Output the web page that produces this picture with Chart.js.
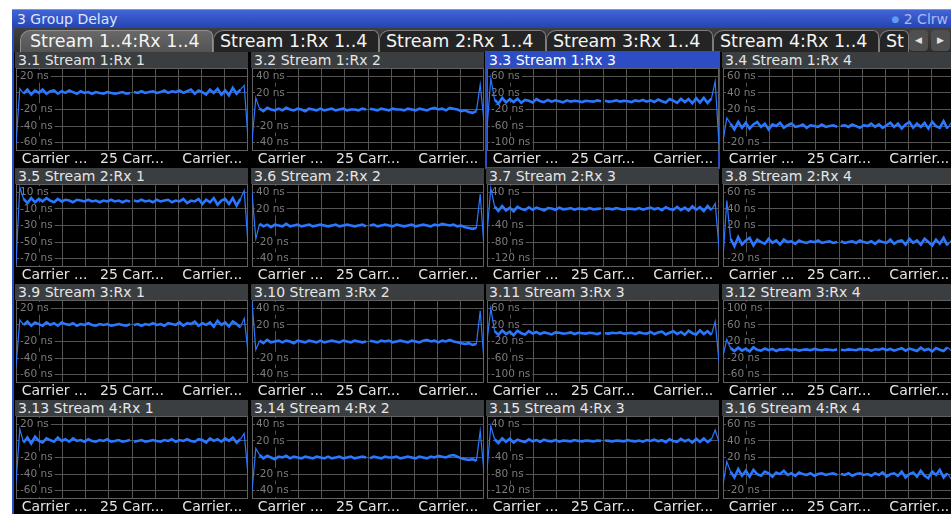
<!DOCTYPE html>
<html lang="en">
<head>
<meta charset="UTF-8">
<title>3 Group Delay</title>
<script src="https://cdn.jsdelivr.net/npm/chart.js"></script>
<style>
  body { margin: 0; width: 951px; height: 514px; overflow: hidden; background: #fff; position: relative; font-family: 'DejaVu Sans', sans-serif; }
  #win { position: absolute; left: 12px; top: 9px; width: 939px; height: 505px; background: #000; border-left: 2px solid #2d4cc2; box-sizing: border-box; }
  #titlebar { position: absolute; left: 12px; top: 9px; width: 939px; height: 19px; box-sizing: border-box; padding: 2px 0 0 5px; background: linear-gradient(#4466d6, #2544b4); box-shadow: inset 0 1px 0 #7b93e4; color: #dfe6ff; font-size: 14px; line-height: 17px; }
  #clrw { position: absolute; right: 3px; top: 2px; color: #a9bbf0; }
  #clrw span { color: #5f9cf5; font-size: 9px; vertical-align: 2px; }
  #tabbar { position: absolute; left: 14px; top: 28px; width: 937px; height: 24px; background: linear-gradient(#404040, #2b2b2b); }
  .tab { position: absolute; top: 30px; height: 22px; box-sizing: border-box; border: 1px solid #7d7d7d; border-bottom: none; border-radius: 10px 6px 0 0; background: #242424; color: #f4f4f4; font-size: 17.5px; line-height: 21px; white-space: nowrap; overflow: hidden; padding-left: 6px; }
  .tab.active { background: linear-gradient(#686868, #535353); border-color: #909090; padding-left: 9px; }
  .btn { position: absolute; top: 30px; width: 19px; height: 21px; background: #4f4f4f; border-radius: 4px; color: #e0e0e0; font-size: 9px; line-height: 21px; text-align: center; }
  .panel { position: absolute; width: 233px; height: 116px; }
  .ptitle { height: 16px; box-sizing: border-box; padding: 1px 0 0 3px; background: #3b3e41; color: #e6e6e6; font-size: 14px; line-height: 15px; white-space: nowrap; overflow: hidden; }
  .panel.sel { outline: 2px solid #2c4dc4; outline-offset: -1px; }
  .panel.sel .ptitle { background: #2c4dc4; color: #fff; }
  .plot { position: absolute; left: 1px; top: 16px; width: 232px; height: 100px; }
</style>
</head>
<body>
<div id="win"></div>
<div id="titlebar">3 Group Delay<div id="clrw"><span>&#9679;</span> 2 Clrw</div></div>
<div id="tabbar"></div>
<div class="tab active" style="left:20px;width:193px">Stream 1..4:Rx 1..4</div>
<div class="tab" style="left:213px;width:166px">Stream 1:Rx 1..4</div>
<div class="tab" style="left:379px;width:167px">Stream 2:Rx 1..4</div>
<div class="tab" style="left:546px;width:167px">Stream 3:Rx 1..4</div>
<div class="tab" style="left:713px;width:166px">Stream 4:Rx 1..4</div>
<div class="tab" style="left:879px;width:30px">St</div>
<div class="btn" style="left:909px">&#9664;</div>
<div class="btn" style="left:931px">&#9654;</div>
<div id="panels"></div>
<script>
const panelTitles = [
  '3.1 Stream 1:Rx 1', '3.2 Stream 1:Rx 2', '3.3 Stream 1:Rx 3', '3.4 Stream 1:Rx 4',
  '3.5 Stream 2:Rx 1', '3.6 Stream 2:Rx 2', '3.7 Stream 2:Rx 3', '3.8 Stream 2:Rx 4',
  '3.9 Stream 3:Rx 1', '3.10 Stream 3:Rx 2', '3.11 Stream 3:Rx 3', '3.12 Stream 3:Rx 4',
  '3.13 Stream 4:Rx 1', '3.14 Stream 4:Rx 2', '3.15 Stream 4:Rx 3', '3.16 Stream 4:Rx 4'
];

// carrier index (x); 0 is the unused DC carrier
const carriers = [
  -122, -118, -114, -110, -106, -102, -98, -94, -90, -86, -82, -78, -74, -70, -66, -62,
  -58, -54, -50, -46, -42, -38, -34, -30, -26, -22, -18, -14, -10, -6, -2,
  0,
  2, 6, 10, 14, 18, 22, 26, 30, 34, 38, 42, 46, 50, 54, 58, 62,
  66, 70, 74, 78, 82, 86, 90, 94, 98, 102, 106, 110, 114, 118, 122
];
const xTickValues = [-116, 0, 116];
const xTickLabels = ['Carrier ...', '25 Carr...', 'Carrier...'];

// y axis ranges (ns) and tick labels per window
const yMin = [-70, -50, -120, -30, -80, -50, -140, -30, -70, -50, -120, -80, -70, -50, -140, -30];
const yMax = [30, 50, 80, 70, 20, 50, 60, 70, 30, 50, 80, 120, 30, 50, 60, 70];
const yTicks = [
  [20, 0, -20, -40, -60], [40, 20, 0, -20, -40], [60, 20, -20, -60, -100], [60, 40, 20, 0, -20],
  [10, -10, -30, -50, -70], [40, 20, 0, -20, -40], [40, 0, -40, -80, -120], [60, 40, 20, 0, -20],
  [20, 0, -20, -40, -60], [40, 20, 0, -20, -40], [60, 20, -20, -60, -100], [100, 60, 20, -20, -60],
  [20, 0, -20, -40, -60], [40, 20, 0, -20, -40], [40, 0, -40, -80, -120], [60, 40, 20, 0, -20]
];

// group delay per carrier (ns)
const delay31 = [-62, 5, -1, 4, -2, 3, 0, 4, -1, 2, 3, -1, 2, 0, 3, 1, -1, 2, 0, 1, -1, 1, 0, -1, 1, 0, -1, 0, 1, -1, 0,
  null, 1, 0, 2, 0, 1, 2, 0, 1, 3, 0, 2, 1, 3, 0, 2, 4, -1, 3, 1, -2, 4, 0, 5, -2, 3, -3, 6, -1, 4, 9, -55];
const delay32 = [-38, 14, 1, -2, 2, 0, -1, 1, -1, 2, 0, -1, 1, 0, -2, 1, 0, -1, 1, -1, 0, 1, -1, 0, 1, -1, 0, 0, -1, 1, 0,
  null, 1, 0, -1, 1, 0, -1, 1, 0, 0, -1, 1, 0, -1, 1, 0, -1, 1, 2, 0, 1, -1, 2, 1, 0, -2, -1, -3, -4, -2, 30, -14];
const delay33 = [-65, 55, 4, -6, 8, -3, 5, -2, 6, -4, 3, 1, -3, 5, 0, -2, 3, -1, 2, 0, -3, 2, -1, 1, 0, -2, 1, 0, -1, 2, 0,
  null, 1, -1, 0, 2, -1, 1, 0, -2, 2, 0, 3, -1, 2, -2, 4, 0, -3, 5, 1, -4, 6, -2, 5, -5, 7, -3, 8, -4, 6, 48, -104];
const delay34 = [-18, 10, 3, -4, 5, -2, 4, -3, 2, 5, -1, 3, -4, 2, 0, 4, -2, 1, 3, -1, 0, 2, -2, 1, 0, -1, 2, -1, 0, 1, -1,
  null, 0, 1, -1, 2, 0, -2, 1, 0, 3, -1, 2, -2, 1, 4, -1, 3, -3, 2, 5, -2, 3, -1, 4, -3, 5, 0, -2, 6, -3, 4, 7];
const delay35 = [-76, 16, 2, -3, 3, -2, 2, -1, 3, 0, -2, 2, -1, 1, 0, -2, 1, 0, -1, 1, -1, 0, -2, 0, -1, 1, -1, 0, -2, 0, -1,
  null, 0, -1, 1, -1, 0, -2, 1, -1, 0, 1, -2, 0, -1, 2, -3, 0, -1, 2, -4, 1, -2, 3, -5, 0, 2, -4, 3, -6, 2, 12, -52];
const delay36 = [40, -16, 2, -1, 1, -2, 1, 0, -1, 2, -1, 0, 1, -1, 0, 1, -1, 0, 1, 0, -1, 0, 1, -1, 0, 1, 0, -1, 0, 1, -1,
  null, 0, 1, -1, 0, 1, 0, -1, 1, 0, -1, 0, 1, -1, 0, 1, 0, -1, 1, 0, 2, 1, 0, 1, -1, 0, -2, -3, -4, -3, 38, -26];
const delay37 = [-60, 50, 6, -5, 7, -4, 3, -6, 5, 0, -3, 4, -2, 3, 0, -4, 2, 1, -2, 3, -1, 0, 2, -2, 1, 0, -1, 2, -1, 0, 1,
  null, 0, 1, -1, 2, 0, -2, 1, 0, -1, 2, -2, 1, 3, -1, 2, -3, 4, 0, -2, 5, -3, 3, -4, 6, -2, 4, -5, 7, -3, 13, -93];
const delay38 = [-19, 50, 4, -5, 6, -3, 2, 5, -4, 3, 0, -2, 4, -1, 2, -3, 3, 0, 1, -2, 2, 0, -1, 1, 0, 2, -1, 0, 1, -1, 0,
  null, 1, -1, 0, 1, -1, 2, 0, -1, 1, -2, 2, 0, -1, 3, -2, 1, 2, -3, 4, -1, 2, -3, 4, 0, -4, 3, -2, 5, -4, 2, 4];
const delay39 = [-50, 6, 0, 4, -1, 3, 1, -1, 3, 0, 2, -1, 3, 1, 0, 2, -1, 1, 0, 2, 0, -1, 1, 0, 1, -1, 0, 1, 0, -1, 1,
  null, 0, 1, -1, 1, 0, 2, 0, 1, -1, 2, 1, 0, 3, -1, 2, 1, 4, -1, 2, 0, 3, -2, 5, 0, 3, -2, 4, 1, -3, 8, -32];
const delay310 = [48, -10, 1, -2, 2, -1, 0, 1, -1, 1, 0, -2, 1, 0, -1, 1, 0, -1, 1, -1, 0, 1, 0, -1, 1, 0, -1, 1, 0, -1, 0,
  null, 1, 0, -1, 1, 0, 1, -1, 0, 1, 0, -1, 1, 0, -1, 1, 2, 0, 1, -1, 1, 0, 2, 0, -1, -2, -3, -2, -4, -3, 37, -23];
const delay311 = [-20, 60, 5, -4, 7, -2, 4, -5, 6, 0, -3, 5, -1, 3, -2, 2, 0, -3, 2, 1, -1, 0, 2, -2, 1, 0, -1, 1, 0, -2, 1,
  null, 0, -1, 1, 0, 2, -1, 0, 1, -2, 2, 0, -1, 3, -2, 2, 4, -3, 1, 5, -2, 3, -4, 6, 0, -3, 7, -2, 5, -4, 28, -68];
const delay312 = [-15, 25, 4, -3, 5, -2, 3, -4, 6, 0, -2, 3, -1, 2, -3, 1, 0, 2, -1, 1, -2, 0, 1, -1, 2, 0, -1, 1, 0, -1, 1,
  null, 0, -1, 1, 0, -1, 2, 0, 1, -2, 1, 0, 3, -1, 2, -2, 1, 4, -2, 3, 0, -3, 5, -1, 2, -4, 4, 0, -3, 6, -2, 3];
const delay313 = [-50, 14, -2, 4, -3, 5, 0, -2, 3, 1, -1, 4, 0, 2, -1, 3, 0, 1, -1, 2, 0, -1, 1, 0, 2, -1, 0, 1, -1, 0, 1,
  null, -1, 0, 1, -1, 0, 1, 0, -1, 1, 0, 2, -1, 1, 0, 2, 0, -1, 2, 1, -2, 3, 0, 2, -1, 3, 0, 4, -2, 2, 9, -40];
const delay314 = [-40, 11, 3, -1, 2, 0, -2, 1, 0, 2, -1, 1, 0, -1, 1, 0, -1, 1, 0, -1, 1, -1, 0, 1, -1, 0, 1, -1, 0, 1, 0,
  null, -1, 1, 0, -1, 1, 0, 0, 1, -1, 0, 1, 0, -1, 1, 0, -1, 1, 0, 2, 1, 0, 2, 3, 1, -1, -2, -3, -2, -4, 32, -18];
const delay315 = [-70, 36, 4, -5, 6, -2, 5, -4, 3, 0, -3, 4, -1, 2, -2, 3, 0, -1, 2, -2, 1, 0, -1, 2, 0, -1, 1, 0, -1, 1, 0,
  null, 1, 0, -1, 1, 0, -1, 2, 0, -1, 1, -2, 2, 0, 3, -1, 2, -3, 4, 0, -2, 5, -1, 3, -4, 5, -2, 6, -3, 4, 26, -3];
const delay316 = [-13, 15, 3, -4, 6, -2, 4, -3, 5, 0, -2, 3, 1, -3, 2, 0, 4, -1, 1, -2, 2, 0, -1, 1, -2, 0, 1, -1, 0, 1, -1,
  null, 0, -1, 1, -2, 0, 1, -1, 0, -2, 1, -1, 2, -3, 0, 1, -2, 3, -4, 0, 2, -3, 4, -2, -5, 3, -1, 5, -4, 1, -6, 4];

const series = [delay31, delay32, delay33, delay34, delay35, delay36, delay37, delay38,
  delay39, delay310, delay311, delay312, delay313, delay314, delay315, delay316];

const colLeft = [15, 251, 486, 722];
const rowTop = [52, 168, 284, 400];
const selected = 2;
const lastIdx = carriers.length - 1;

Chart.defaults.font.family = "'DejaVu Sans', sans-serif";

// grey frame round the plot area
const frame = {
  id: 'frame',
  beforeDatasetsDraw(chart) {
    const { ctx, chartArea: a } = chart;
    ctx.save();
    ctx.strokeStyle = '#606060';
    ctx.lineWidth = 1;
    ctx.strokeRect(a.left + 0.5, a.top + 0.5, a.width - 1, a.height - 1);
    ctx.restore();
  }
};

const holder = document.getElementById('panels');

series.forEach((values, i) => {
  const panel = document.createElement('div');
  panel.className = 'panel' + (i === selected ? ' sel' : '');
  panel.style.left = colLeft[i % 4] + 'px';
  panel.style.top = rowTop[Math.floor(i / 4)] + 'px';
  panel.innerHTML = '<div class="ptitle">' + panelTitles[i] + '</div><div class="plot"><canvas></canvas></div>';
  holder.appendChild(panel);

  new Chart(panel.querySelector('canvas'), {
    type: 'line',
    data: {
      datasets: [{
        data: carriers.map((c, k) => ({ x: c, y: values[k] })),
        borderColor: '#2a78ff',
        borderWidth: 2.6,
        borderJoinStyle: 'miter',
        pointRadius: 0,
        tension: 0,
        spanGaps: false,
        // the band-edge carriers jump far off, draw those strokes thin
        segment: {
          borderWidth: ctx => (ctx.p0DataIndex <= 1 || ctx.p1DataIndex >= lastIdx - 1 ? 1.2 : 2.6)
        }
      }]
    },
    options: {
      animation: false,
      responsive: true,
      maintainAspectRatio: false,
      layout: { padding: 0 },
      plugins: { legend: { display: false }, tooltip: { enabled: false } },
      scales: {
        x: {
          type: 'linear', min: -122, max: 122,
          grid: { display: false, drawTicks: false },
          border: { display: false },
          afterBuildTicks: axis => { axis.ticks = xTickValues.map(v => ({ value: v })); },
          afterFit: axis => { axis.height = 17; axis.paddingLeft = 0; axis.paddingRight = 0; },
          ticks: {
            autoSkip: false, maxRotation: 0, align: 'inner', padding: 1,
            color: '#e4e4e4', font: { size: 14, lineHeight: 1 },
            callback: (v, k) => xTickLabels[k]
          }
        },
        xg: {
          type: 'linear', position: 'top', min: 0, max: 10,
          ticks: { display: false, stepSize: 1 },
          grid: { color: '#545454', drawTicks: false },
          border: { display: false },
          afterFit: axis => { axis.height = 0; }
        },
        y: {
          min: yMin[i], max: yMax[i],
          afterBuildTicks: axis => { axis.ticks = yTicks[i].map(v => ({ value: v })); },
          afterFit: axis => { axis.width = 0; axis.paddingTop = 0; axis.paddingBottom = 0; },
          grid: { color: '#545454', drawTicks: false },
          border: { display: false },
          ticks: {
            mirror: true, padding: 4, color: '#7c7c7c', font: { size: 10.5 },
            showLabelBackdrop: true, backdropColor: '#000',
            backdropPadding: { top: 0, bottom: 0, left: 1, right: 2 },
            callback: v => (v === 0 ? '' : v + ' ns')
          }
        }
      }
    },
    plugins: [frame]
  });
});
</script>
</body>
</html>
